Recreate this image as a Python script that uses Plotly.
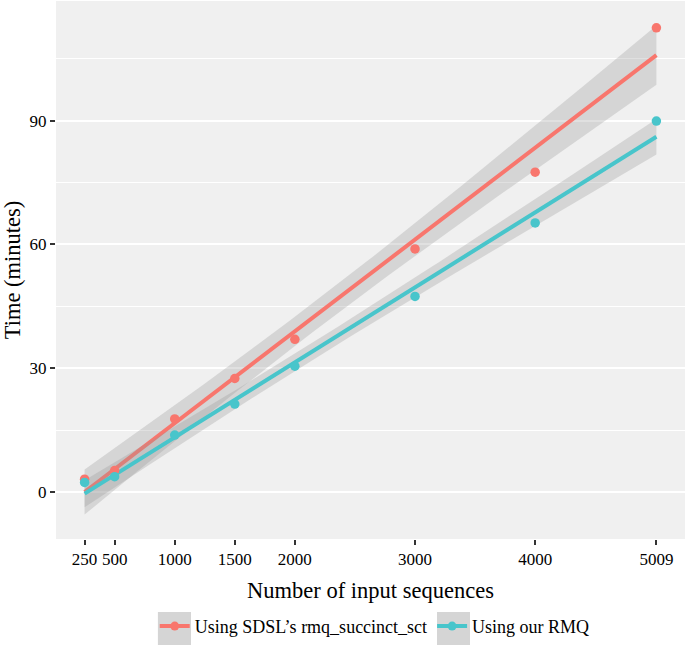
import numpy as np
import plotly.graph_objects as go

n_seq = [250, 500, 1000, 1500, 2000, 3000, 4000, 5009]
time_sdsl = [3.1, 5.2, 17.7, 27.5, 37.0, 58.9, 77.5, 112.5]
time_ours = [2.3, 3.7, 13.8, 21.3, 30.5, 47.4, 65.2, 89.9]
series_names = ["Using SDSL\u2019s rmq_succinct_sct", "Using our RMQ"]
series_colors = ["#F8766D", "#48C5CB"]
x_ticks = [250, 500, 1000, 1500, 2000, 3000, 4000, 5009]
y_ticks = [0, 30, 60, 90]

T_975_DF6 = 2.446912  # t quantile for 95% CI, df = n - 2


def lm_band(x, y, grid):
    x = np.asarray(x, float)
    y = np.asarray(y, float)
    b, a = np.polyfit(x, y, 1)
    resid = y - (a + b * x)
    n = len(x)
    s = np.sqrt(np.sum(resid ** 2) / (n - 2))
    sxx = np.sum((x - x.mean()) ** 2)
    fit = a + b * grid
    se = s * np.sqrt(1.0 / n + (grid - x.mean()) ** 2 / sxx)
    return fit, fit - T_975_DF6 * se, fit + T_975_DF6 * se


FONT = "Liberation Serif"
grid = np.linspace(min(n_seq), max(n_seq), 80)

fig = go.Figure()
for ys, name, col in zip([time_sdsl, time_ours], series_names, series_colors):
    fit, lo, hi = lm_band(n_seq, ys, grid)
    fig.add_trace(go.Scatter(
        x=np.concatenate([grid, grid[::-1]]),
        y=np.concatenate([hi, lo[::-1]]),
        fill="toself", fillcolor="rgba(153,153,153,0.3)",
        line=dict(width=0), mode="lines", hoverinfo="skip", showlegend=False))
    fig.add_trace(go.Scatter(x=grid, y=fit, mode="lines",
                             line=dict(color=col, width=4), showlegend=False))

for ys, name, col in zip([time_sdsl, time_ours], series_names, series_colors):
    fig.add_trace(go.Scatter(x=n_seq, y=ys, mode="markers",
                             marker=dict(color=col, size=9.5), showlegend=False))
    fig.add_trace(go.Scatter(x=[None], y=[None], mode="lines+markers", name=name,
                             line=dict(color=col, width=4),
                             marker=dict(color=col, size=9)))

fig.update_layout(
    width=685, height=647,
    margin=dict(l=56, r=0, t=1, b=108),
    paper_bgcolor="white", plot_bgcolor="#F0F0F0",
    font=dict(family=FONT, size=18, color="black"),
    showlegend=True,
    legend=dict(orientation="h", x=0.157, xanchor="left", y=-0.128, yanchor="top",
                font=dict(family=FONT, size=18, color="black"),
                bgcolor="rgba(0,0,0,0)", itemwidth=30, tracegroupgap=0),
    shapes=[
        dict(type="rect", xref="paper", yref="paper", x0=0.162, x1=0.2146,
             y0=-0.197, y1=-0.1357, fillcolor="#D5D5D5", line=dict(width=0), layer="below"),
        dict(type="rect", xref="paper", yref="paper", x0=0.6057, x1=0.6582,
             y0=-0.197, y1=-0.1357, fillcolor="#D5D5D5", line=dict(width=0), layer="below"),
    ],
)
fig.update_xaxes(range=[12, 5247], tickvals=x_ticks, ticktext=[str(v) for v in x_ticks],
                 tickangle=0,
                 showgrid=False, zeroline=False, ticks="outside", ticklen=5, tickwidth=1.5,
                 tickcolor="#333333", tickfont=dict(size=17),
                 title=dict(text="Number of input sequences", font=dict(size=22.5), standoff=13))
fig.update_yaxes(range=[-11.4, 119], tickvals=y_ticks, ticktext=[str(v) for v in y_ticks],
                 showgrid=True, gridcolor="white", gridwidth=1.6, zeroline=False,
                 ticks="outside", ticklen=5, tickwidth=1.5, tickcolor="#333333",
                 tickfont=dict(size=17),
                 minor=dict(tickvals=[15, 45, 75, 105], showgrid=True, gridcolor="white",
                            gridwidth=0.8, ticks=""),
                 title=dict(text="Time (minutes)", font=dict(size=22.5), standoff=9))

fig.write_html("out.html", config={"displayModeBar": False},
               post_script="document.body.style.margin='0';")
